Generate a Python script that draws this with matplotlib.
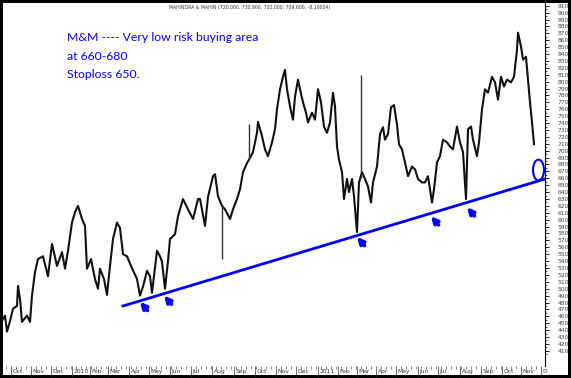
import matplotlib
matplotlib.use('Agg')
import matplotlib.pyplot as plt
from matplotlib.patches import Rectangle, Ellipse

# bar number (trading session) and close
sessions = [0, 2, 4, 7, 10, 14, 15, 17, 19, 24, 27, 29, 32, 35, 40, 45, 49, 54, 59, 62,
            65, 69, 72, 75, 79, 82, 84, 88, 92, 95, 97, 101, 104, 107, 110, 114, 117, 120, 124, 128,
            134, 137, 140, 144, 147, 149, 154, 157, 159, 162, 165, 167, 172, 175, 180, 185, 190, 195, 197, 202,
            205, 210, 212, 215, 219, 222, 227, 230, 234, 237, 240, 244, 246, 250, 254, 255, 259, 262, 265, 269,
            272, 274, 277, 280, 282, 284, 287, 290, 292, 295, 297, 300, 303, 305, 309, 312, 315, 318, 321, 324,
            327, 330, 332, 334, 336, 339, 341, 344, 346, 349, 351, 354, 356, 359, 362, 365, 368, 370, 374, 377,
            380, 382, 385, 388, 391, 394, 396, 399, 402, 405, 409, 412, 415, 419, 422, 425, 427, 429, 431, 434,
            437, 440, 444, 447, 450, 454, 457, 460, 463, 465, 468, 470, 474, 476, 479, 482, 485, 489, 492, 495,
            498, 501, 504, 508, 511, 514, 515, 518, 520, 523, 525, 527, 529, 531]
close = [456, 461, 438, 453, 471, 475, 504, 485, 452, 461, 452, 490, 524, 543, 547, 518, 565, 533, 553, 529,
         555, 596, 611, 620, 601, 591, 529, 543, 514, 500, 529, 514, 491, 533, 572, 596, 588, 550, 547, 533,
         514, 490, 503, 526, 518, 494, 555, 547, 539, 500, 540, 572, 579, 605, 630, 615, 601, 630, 630, 591,
         633, 663, 666, 634, 620, 615, 601, 615, 630, 644, 669, 682, 687, 698, 726, 742, 721, 702, 692, 712,
         731, 760, 789, 807, 817, 789, 764, 745, 778, 803, 789, 770, 755, 741, 755, 745, 789, 770, 735, 726,
         741, 784, 764, 706, 687, 669, 630, 659, 640, 659, 634, 582, 654, 669, 659, 648, 625, 654, 677, 724,
         734, 716, 724, 763, 766, 738, 709, 702, 683, 663, 677, 673, 659, 654, 654, 663, 644, 625, 644, 683,
         692, 716, 712, 706, 702, 735, 712, 698, 630, 731, 735, 716, 692, 712, 760, 789, 784, 807, 799, 774,
         807, 793, 803, 799, 807, 846, 871, 851, 832, 836, 803, 770, 741, 709.6]

# single-bar spikes
wick_session = [219, 246, 358]
wick_low = [543, 687, 660]
wick_high = [620, 738, 810]

# support line, circle and arrows
trend_sessions = [120, 542]
trend_prices = [475, 659]
arrow_sessions = [137, 161, 354, 428, 464]
arrow_prices = [481, 490, 575, 605, 618]

month_sessions = [8, 28, 48, 69, 87, 105, 126, 146, 167, 188, 209, 231, 252, 273, 293,
                  315, 335, 354, 373, 393, 415, 435, 457, 478, 499, 518, 538]
month_labels = ['Oct', 'Nov', 'Dec', '2010', 'Feb', 'Mar', 'Apr', 'May', 'Jun', 'Jul', 'Aug', 'Sep',
                'Oct', 'Nov', 'Dec', '2011', 'Feb', 'Mar', 'Apr', 'May', 'Jun', 'Jul', 'Aug', 'Sep',
                'Oct', 'Nov', 'D']

title = 'MAHINDRA & MAHIN (720.000, 730.900, 702.000, 709.600, -8.10004)'
note = 'M&M ---- Very low risk buying area\nat 660-680\nStoploss 650.'
BLUE = '#0000ff'

W, H = 571, 378
fig = plt.figure(figsize=(W / 100, H / 100), dpi=100, facecolor='black')
fig.patches.append(Rectangle((3 / W, 3 / H), 565 / W, 372 / H, transform=fig.transFigure,
                             facecolor='white', edgecolor='none', zorder=-10))
ax = fig.add_axes([3 / W, 12 / H, 542 / W, 363 / H])
ax.set_zorder(5)
ax.set_facecolor('white')

ax.plot(sessions, close, color='#111111', lw=1.5, zorder=3)
ax.vlines(wick_session, wick_low, wick_high, color='#333333', lw=1.0, zorder=3)

ax.plot(trend_sessions, trend_prices, color=BLUE, lw=2, zorder=4)
ax.add_patch(Ellipse((535.5, 672), 11, 30, fill=False, edgecolor=BLUE, lw=1.5, zorder=4))
for s, p in zip(arrow_sessions, arrow_prices):
    ax.annotate('', xy=(s, p), xytext=(s + 7.5, p - 12.5),
                arrowprops=dict(arrowstyle='-|>', color=BLUE, lw=2.6, mutation_scale=9,
                                shrinkA=0, shrinkB=0), zorder=5)

ax.set_xlim(0, 542)
ax.set_ylim(388, 914)

for side in ['left', 'top', 'bottom']:
    ax.spines[side].set_visible(False)
ax.spines['right'].set_linewidth(0.8)

# right price axis
ax.yaxis.tick_right()
ax.set_yticks(range(410, 911, 10))
ax.set_yticks(range(405, 915, 10), minor=True)
ax.tick_params(axis='y', which='major', length=3, width=0.6, pad=6, labelsize=4.3,
               labelcolor='#444444', direction='out')
ax.tick_params(axis='y', which='minor', length=1.5, width=0.5, direction='out')

# month axis, labels left-aligned after the tick
ax.set_xticks(month_sessions)
ax.set_xticklabels([])
ax.set_xticks(range(3, 542, 5), minor=True)
ax.tick_params(axis='x', which='major', length=8, width=0.5, direction='out', color='#333333')
ax.tick_params(axis='x', which='minor', length=2, width=0.5, direction='out', color='#555555')
for s, lab in zip(month_sessions, month_labels):
    ax.text(s + 1.5, -0.008, lab, transform=ax.get_xaxis_transform(), ha='left', va='top',
            fontsize=4.3, color='#333333')

fig.text(250 / W, 1 - 8 / H, title, ha='center', va='center', fontsize=3.3, color='#333333',
         zorder=10)
ax.text(64, 872, note, color=BLUE, fontsize=8.8, family='Lato', va='top', ha='left',
        linespacing=1.85)

fig.savefig('out.png', dpi=100, facecolor=fig.get_facecolor())
